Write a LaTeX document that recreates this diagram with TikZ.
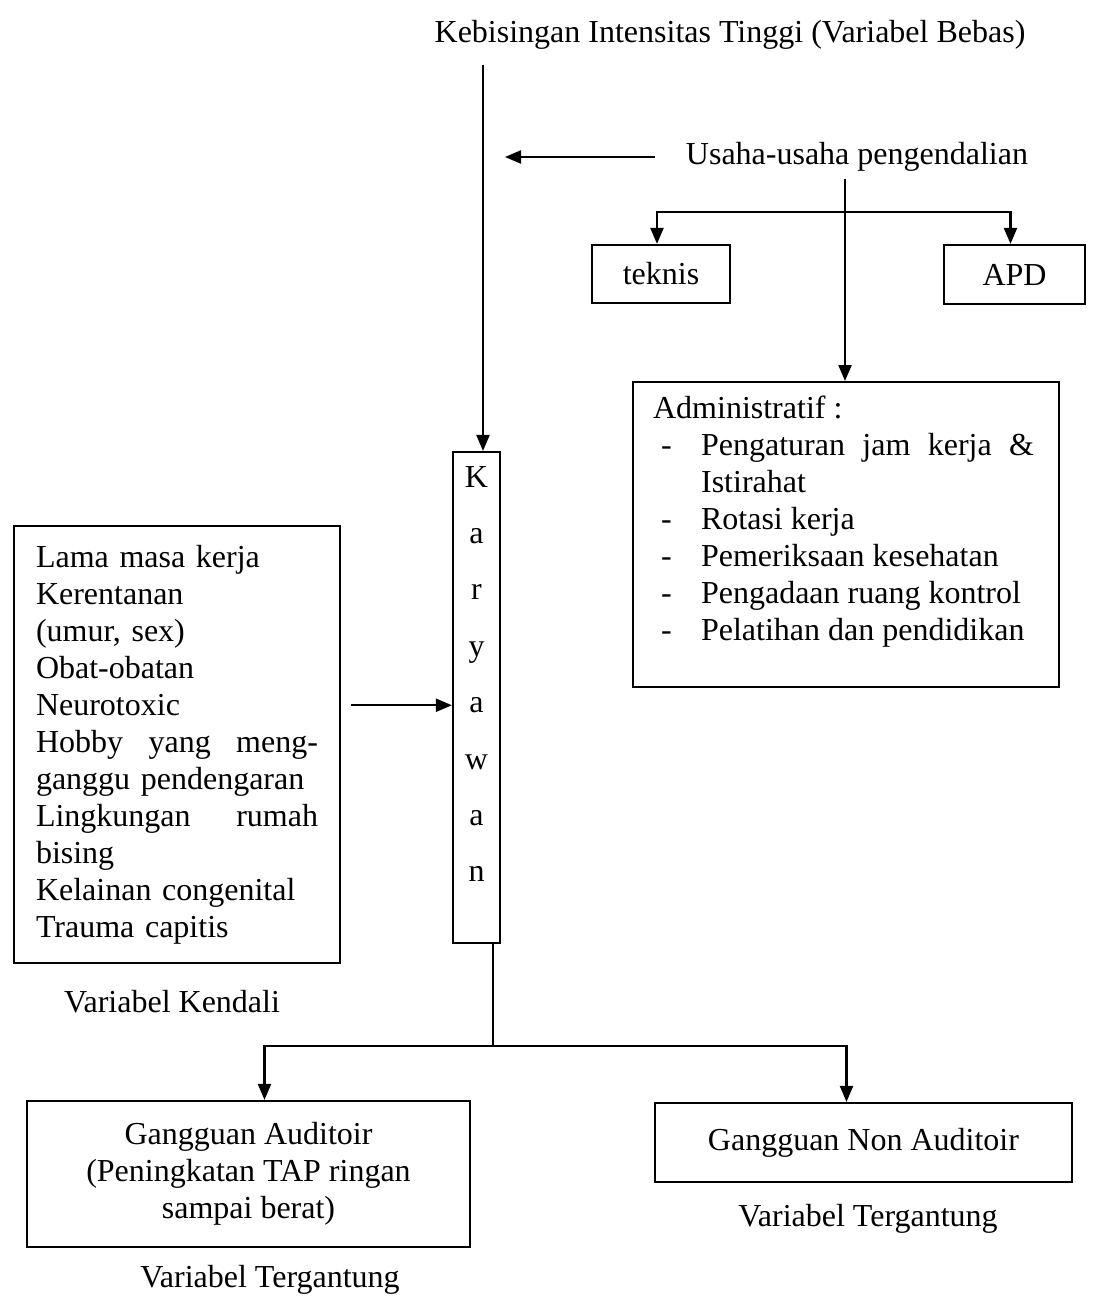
\documentclass[tikz,border=0pt]{standalone}
\usepackage{fontspec}
\setmainfont{Liberation Serif}
\usetikzlibrary{arrows.meta, positioning, calc}
\tikzset{
    box/.style={
        rectangle, draw=black, line width=1.1pt, inner sep=0pt
    },
    connection/.style={draw=black, line width=1.1pt, -{Triangle[length=8pt, width=6.5pt]}},
    wire/.style={draw=black, line width=1.1pt},
    letter/.style={anchor=base}
}

\begin{document}
\begin{tikzpicture}[x=0.5pt, y=-0.5pt, font=\fontsize{16}{18.5}\selectfont]
    \useasboundingbox (0,0) rectangle (1094,1311);

    % Independent variable
    \node (bebas) at (730,35) {Kebisingan Intensitas Tinggi (Variabel Bebas)};
    \coordinate (bebasline) at (483,65);

    % Control efforts
    \node (usaha) at (857,157) {Usaha-usaha pengendalian};
    \coordinate (usahaend) at (505,157);
    \coordinate (split) at (845,212);
    \node[box, minimum width=69pt, minimum height=29pt] (teknis) at (661,274) {teknis};
    \node[box, minimum width=70.5pt, minimum height=29.5pt] (apd) at (1014.5,274.5) {APD};
    \node[box, anchor=north west] (admin) at (632,381) {%
        \begin{minipage}[t][152.5pt][t]{213pt}
        \fontsize{16}{18.5}\selectfont
        \vspace*{7pt}
        \leftskip=10pt
        Administratif :\\
        \hspace*{4pt}\makebox[20pt][l]{-}\makebox[166.5pt][s]{Pengaturan jam kerja \&}\\
        \hspace*{24pt}Istirahat\\
        \hspace*{4pt}\makebox[20pt][l]{-}Rotasi kerja\\
        \hspace*{4pt}\makebox[20pt][l]{-}Pemeriksaan kesehatan\\
        \hspace*{4pt}\makebox[20pt][l]{-}Pengadaan ruang kontrol\\
        \hspace*{4pt}\makebox[20pt][l]{-}Pelatihan dan pendidikan
        \end{minipage}};

    % Employees
    \node[box, minimum width=23.5pt, minimum height=245.5pt] (kary) at (476.5,697.5) {};
    \foreach \ch [count=\i] in {K,a,r,y,a,w,a,n}
        \node[letter] (k\i) at (476.5,{487+56.4*(\i-1)}) {\ch};

    % Control variables
    \node[box, minimum width=163pt, minimum height=218.5pt, text width=141pt,
          inner xsep=11pt, align=left] (kendali) at (177,744.5) {%
        Lama masa kerja\\
        Kerentanan\\
        (umur, sex)\\
        Obat-obatan\\
        Neurotoxic\\
        Hobby \hfill yang \hfill meng-\\
        ganggu pendengaran\\
        Lingkungan \hfill rumah\\
        bising\\
        Kelainan congenital\\
        Trauma capitis};
    \node (kendalilabel) at (172,1002) {Variabel Kendali};

    % Dependent variables
    \node[box, minimum width=221.5pt, minimum height=73pt, align=center] (auditoir) at (248.5,1174)
        {Gangguan Auditoir\\(Peningkatan TAP ringan\\sampai berat)};
    \node[box, minimum width=208.5pt, minimum height=39.5pt] (nonaud) at (863.5,1142.5) {Gangguan Non Auditoir};
    \node (tergantung1) at (270,1280) {Variabel Tergantung};
    \node (tergantung2) at (868,1219) {Variabel Tergantung};

    % Connectors
    \draw[connection] (bebasline) -- (bebasline |- kary.north);
    \draw[connection] ([xshift=-12pt]usaha.west) -- (usahaend);
    \draw[wire] (usaha.south -| split) -- (split);
    \draw[connection] (split) -- (split |- admin.north);
    \draw[connection] (split) -| ([xshift=-2pt]teknis.north);
    \draw[connection] (split) -| ([xshift=-2pt]apd.north);
    \draw[connection] ($(kendali.east |- k5)+(5pt,0)$) -- (kary.west |- k5);
    \coordinate (join) at (493,1046);
    \draw[wire] (kary.south -| join) -- (join);
    \draw[connection] (join) -| ([xshift=8pt]auditoir.north);
    \draw[connection] (join) -| ([xshift=-8.5pt]nonaud.north);
\end{tikzpicture}
\end{document}
